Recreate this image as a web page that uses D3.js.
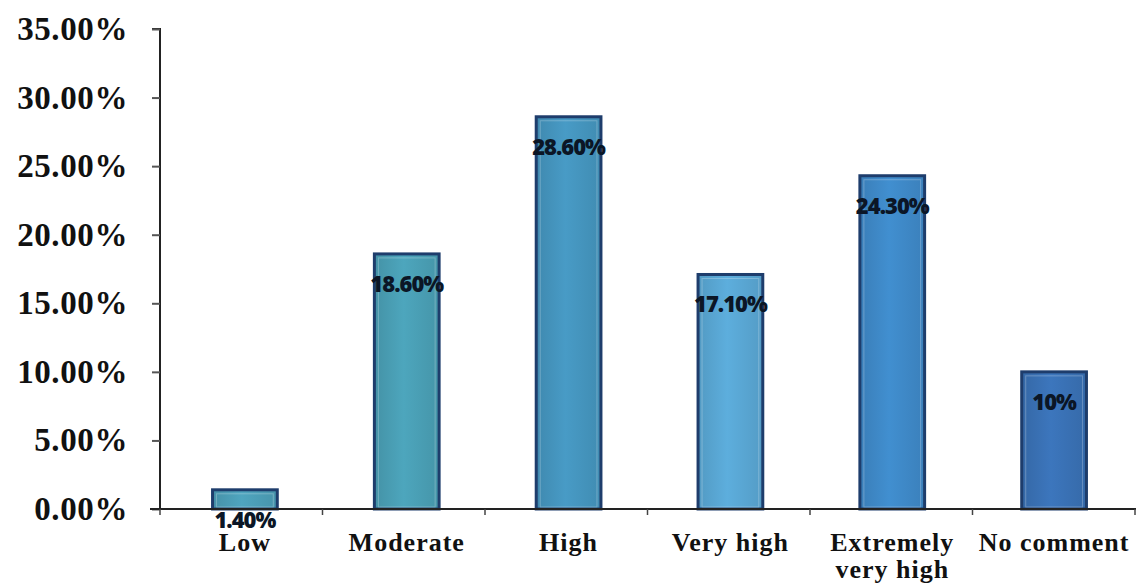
<!DOCTYPE html>
<html>
<head>
<meta charset="utf-8">
<script src="https://cdn.jsdelivr.net/npm/d3@7"></script>
<style>
  html, body { margin: 0; padding: 0; background: #fff; }
  svg { display: block; }
</style>
</head>
<body>
<svg id="chart" width="1136" height="585"></svg>
<script>
// Survey responses by level
const categories = ["Low", "Moderate", "High", "Very high", "Extremely very high", "No comment"];
const categoryLines = [["Low"], ["Moderate"], ["High"], ["Very high"], ["Extremely", "very high"], ["No comment"]];
const values = [1.4, 18.6, 28.6, 17.1, 24.3, 10];
const valueLabels = ["1.40%", "18.60%", "28.60%", "17.10%", "24.30%", "10%"];
const yTicks = [0, 5, 10, 15, 20, 25, 30, 35];
const barColors = ["#4c9fb8", "#4aa0b6", "#4596bf", "#5aa8d5", "#3f8ac9", "#3a72b6"];

const svg = d3.select("#chart");
const plotLeft = 160, plotRight = 1135, plotTop = 29, plotBottom = 509;

const x = d3.scaleBand().domain(categories).range([plotLeft + 4, plotRight]).paddingInner(0.6).paddingOuter(0.3);
const xStep = d3.scaleBand().domain(categories).range([plotLeft, plotRight]).padding(0);
const y = d3.scaleLinear().domain([0, 35]).range([plotBottom, plotTop]);

// gradients for a subtle sheen on each bar
const defs = svg.append("defs");
barColors.forEach((c, i) => {
  const g = defs.append("linearGradient").attr("id", "g" + i)
    .attr("x1", 0).attr("x2", 1).attr("y1", 0).attr("y2", 0);
  const base = d3.color(c);
  g.append("stop").attr("offset", "0%").attr("stop-color", base.darker(0.25));
  g.append("stop").attr("offset", "45%").attr("stop-color", base.brighter(0.1));
  g.append("stop").attr("offset", "100%").attr("stop-color", base.darker(0.2));
});

// y axis
const yAxis = svg.append("g").attr("transform", `translate(${plotLeft},0)`)
  .call(d3.axisLeft(y).tickValues(yTicks).tickSize(8).tickPadding(24)
    .tickFormat(d => d.toFixed(2) + "%"));
yAxis.select(".domain").attr("stroke", "#222").attr("stroke-width", 2)
  .attr("d", `M-8,${plotTop}H0V${plotBottom}`);
yAxis.selectAll(".tick line").attr("stroke", "#555").attr("stroke-width", 2);
yAxis.selectAll(".tick text")
  .attr("font-family", "'Liberation Serif', 'Times New Roman', serif")
  .attr("font-weight", "bold").attr("font-size", 33).attr("fill", "#111")
  .attr("letter-spacing", "0.6")
  .attr("dy", "0.32em");

// bars
svg.append("g").selectAll("rect").data(categories).join("rect")
  .attr("x", d => x(d))
  .attr("y", (d, i) => y(values[i]))
  .attr("width", x.bandwidth())
  .attr("height", (d, i) => y(0) - y(values[i]))
  .attr("fill", (d, i) => `url(#g${i})`)
  .attr("stroke", "#1e3d6c").attr("stroke-width", 3);

// inner light edge
svg.append("g").selectAll("rect").data(categories).join("rect")
  .attr("x", d => x(d) + 4)
  .attr("y", (d, i) => y(values[i]) + 4)
  .attr("width", x.bandwidth() - 8)
  .attr("height", (d, i) => Math.max(0, y(0) - y(values[i]) - 6))
  .attr("fill", "none")
  .attr("stroke", "rgba(255,255,255,0.25)").attr("stroke-width", 1);

// x axis
const xAxis = svg.append("g").attr("transform", `translate(0,${plotBottom})`);
xAxis.append("line").attr("x1", 150).attr("x2", 1136).attr("y1", 0).attr("y2", 0)
  .attr("stroke", "#222").attr("stroke-width", 2);
xAxis.selectAll(".tk").data(categories.concat(["end"])).join("line")
  .attr("x1", (d, i) => i < categories.length ? xStep(d) : plotRight)
  .attr("x2", (d, i) => i < categories.length ? xStep(d) : plotRight)
  .attr("y1", 0).attr("y2", 6).attr("stroke", "#444").attr("stroke-width", 1.5);

const catG = svg.append("g");
categories.forEach((c, i) => {
  const cx = x(c) + x.bandwidth() / 2;
  const t = catG.append("text")
    .attr("x", cx)
    .attr("y", 551)
    .attr("text-anchor", "middle")
    .attr("font-family", "'Liberation Serif', 'Times New Roman', serif")
    .attr("font-weight", "bold").attr("font-size", 26).attr("fill", "#111")
    .attr("letter-spacing", "1");
  categoryLines[i].forEach((line, j) => {
    t.append("tspan").attr("x", cx).attr("dy", j === 0 ? 0 : 27).text(line);
  });
});

// value labels
svg.append("g").selectAll("text").data(categories).join("text")
  .attr("x", d => x(d) + x.bandwidth() / 2)
  .attr("y", (d, i) => y(values[i]) + 38)
  .attr("text-anchor", "middle")
  .attr("font-family", "'Open Sans', 'DejaVu Sans', sans-serif")
  .attr("font-weight", 800).attr("font-size", 22).attr("fill", "#0b1626")
  .attr("letter-spacing", "-1")
  .text((d, i) => valueLabels[i]);
</script>
</body>
</html>
